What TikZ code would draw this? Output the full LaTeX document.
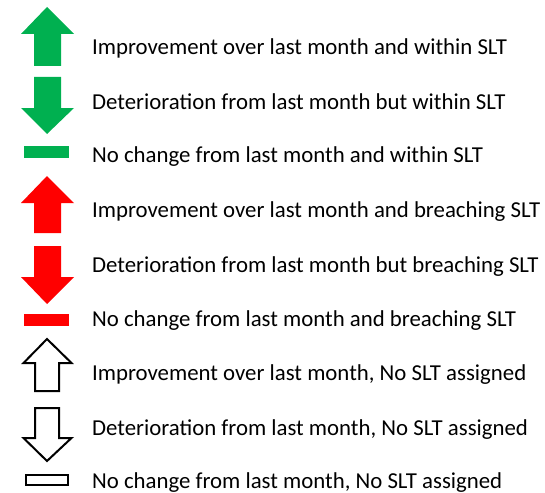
\documentclass[tikz,border=0pt]{standalone}
\usepackage{fontspec}
\setmainfont{Carlito}
\definecolor{okgreen}{HTML}{00B050}
\definecolor{okred}{HTML}{FF0000}
\tikzset{
  lbl/.style={anchor=base west, inner sep=0pt, font=\fontsize{22.8}{26}\selectfont},
  gfill/.style={fill=okgreen, draw=none},
  rfill/.style={fill=okred, draw=none},
  wfill/.style={fill=white, draw=black, line width=2pt, line join=miter},
}
\begin{document}
\begin{tikzpicture}[x=1pt,y=-1pt]
\useasboundingbox (0,0) rectangle (545,492);
% cut-off title
\node[anchor=base west, inner sep=0pt, font=\fontsize{22}{26}\selectfont\bfseries] (title) at (120,-3) {Key};
% green
\fill[gfill] (47,7) -- (74,34) -- (61,34) -- (61,66) -- (34,66) -- (34,34) -- (21,34) -- cycle;
\fill[gfill] (34,77) -- (61,77) -- (61,108) -- (74,108) -- (47,134) -- (21,108) -- (34,108) -- cycle;
\fill[gfill] (24,146) rectangle (69,158);
% red
\fill[rfill] (47,176) -- (74,203) -- (61,203) -- (61,233) -- (34,233) -- (34,203) -- (21,203) -- cycle;
\fill[rfill] (34,246) -- (61,246) -- (61,277) -- (74,277) -- (47,304) -- (21,277) -- (34,277) -- cycle;
\fill[rfill] (24,314) rectangle (69,326);
% white
\draw[wfill] (47,339) -- (71.5,363) -- (59,363) -- (59,391) -- (35,391) -- (35,363) -- (23.5,363) -- cycle;
\draw[wfill] (35,408) -- (59,408) -- (59,438) -- (71.5,438) -- (47,461) -- (23.5,438) -- (35,438) -- cycle;
\draw[wfill] (26,475) rectangle (68,485);
% labels
\node[lbl] (t1) at (92,55) {Improvement over last month and within SLT};
\node[lbl] (t2) at (92,109) {Deterioration from last month but within SLT};
\node[lbl] (t3) at (92,162) {No change from last month and within SLT};
\node[lbl] (t4) at (92,217) {Improvement over last month and breaching SLT};
\node[lbl] (t5) at (92,272) {Deterioration from last month but breaching SLT};
\node[lbl] (t6) at (92,326) {No change from last month and breaching SLT};
\node[lbl] (t7) at (92,380) {Improvement over last month, No SLT assigned};
\node[lbl] (t8) at (92,435) {Deterioration from last month, No SLT assigned};
\node[lbl] (t9) at (92,488) {No change from last month, No SLT assigned};
\end{tikzpicture}
\end{document}
